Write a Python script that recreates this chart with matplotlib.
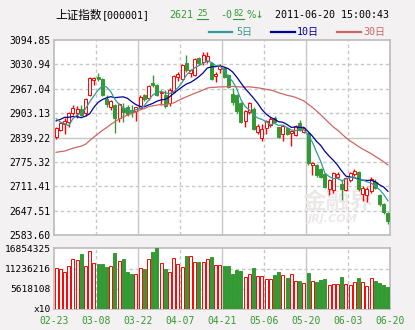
import matplotlib
matplotlib.use("Agg")
import matplotlib.pyplot as plt
from matplotlib.lines import Line2D
import numpy as np
import pandas as pd

# closes before the window, only used to warm up the moving averages
pre_close = [2824.20, 2838.80, 2791.18, 2804.05, 2821.30, 2827.72, 2791.34, 2706.66,
             2708.44, 2750.23, 2677.65, 2715.29, 2676.66, 2677.43, 2708.81, 2749.14,
             2752.75, 2790.69, 2798.96, 2774.06, 2837.62, 2828.36, 2899.25, 2899.24,
             2917.56, 2923.26, 2899.98, 2932.25, 2825.33]

opens = [2842, 2859, 2876, 2880, 2903, 2905, 2913, 2904, 2951, 2990,
         2997, 2993, 2940, 2920, 2924, 2891, 2917, 2920, 2911, 2909,
         2918, 2949, 2942, 2983, 2977, 2955, 2951, 2929, 2959, 2999,
         2994, 3034, 3010, 3003, 3047, 3038, 3040, 3034, 3001, 3019,
         3022, 3003, 2952, 2951, 2929, 2883, 2907, 2914, 2853, 2839,
         2865, 2872, 2890, 2866, 2850, 2865, 2852, 2847, 2878, 2855,
         2850, 2767, 2766, 2757, 2742, 2704, 2703, 2737, 2718, 2703,
         2729, 2743, 2748, 2692, 2690, 2699, 2722, 2688, 2664, 2640]
highs = [2866, 2880, 2890, 2906, 2924, 2922, 2925, 2944, 2998, 2999,
         3009, 2995, 2950, 2938, 2926, 2929, 2929, 2925, 2924, 2920,
         2950, 2952, 2977, 3004, 2980, 2964, 2964, 2968, 3002, 3010,
         3032, 3056, 3020, 3048, 3050, 3063, 3063, 3036, 3012, 3031,
         3025, 3006, 2968, 2954, 2932, 2912, 2933, 2918, 2874, 2874,
         2884, 2892, 2896, 2868, 2872, 2868, 2860, 2873, 2884, 2867,
         2853, 2775, 2770, 2760, 2745, 2730, 2748, 2748, 2728, 2735,
         2750, 2756, 2752, 2712, 2710, 2735, 2731, 2691, 2668, 2644]
lows = [2836, 2855, 2849, 2866, 2897, 2890, 2895, 2895, 2948, 2977,
        2988, 2948, 2920, 2912, 2850, 2880, 2880, 2895, 2894, 2883,
        2914, 2935, 2938, 2972, 2948, 2925, 2916, 2921, 2955, 2987,
        2990, 3012, 2999, 3000, 3030, 3030, 3034, 2990, 2986, 3008,
        2996, 2968, 2925, 2903, 2878, 2868, 2900, 2858, 2848, 2830,
        2848, 2868, 2876, 2838, 2830, 2845, 2818, 2843, 2856, 2850,
        2768, 2742, 2736, 2733, 2707, 2689, 2695, 2730, 2676, 2698,
        2722, 2738, 2700, 2672, 2671, 2695, 2703, 2660, 2638, 2612]
closes = [2864, 2877, 2882, 2903, 2917, 2914, 2898, 2940, 2995, 2994,
          2992, 2951, 2927, 2935, 2891, 2926, 2907, 2901, 2907, 2918,
          2946, 2940, 2973, 2976, 2951, 2959, 2922, 2964, 2999, 3005,
          3028, 3016, 3016, 3045, 3034, 3056, 3052, 2993, 3005, 3025,
          2999, 2972, 2932, 2909, 2881, 2909, 2929, 2863, 2870, 2862,
          2881, 2888, 2880, 2842, 2868, 2848, 2857, 2870, 2860, 2864,
          2772, 2771, 2740, 2736, 2710, 2727, 2745, 2744, 2704, 2732,
          2746, 2752, 2705, 2707, 2705, 2731, 2707, 2664, 2643, 2621.25]

# volume in units of 10 shares
volume = [11290000, 11020000, 10180000, 11850000, 13800000, 13520000, 15290000, 11850000, 16030000, 12690000,
          12510000, 12510000, 11660000, 11850000, 15560000, 13250000, 13890000, 10280000, 9720000, 9720000,
          11290000, 11110000, 13800000, 15840000, 16854325, 12690000, 11110000, 10280000, 14070000, 12510000,
          11660000, 14730000, 14730000, 13060000, 13060000, 13060000, 13800000, 14550000, 12220000, 12220000,
          11950000, 11950000, 9810000, 10840000, 10650000, 8880000, 9720000, 11390000, 9170000, 9170000,
          8240000, 8240000, 9440000, 10280000, 9440000, 8610000, 9720000, 7790000, 7790000, 7230000,
          9990000, 7790000, 7500000, 8060000, 8340000, 6670000, 6940000, 6940000, 8880000, 6940000,
          6670000, 7500000, 8610000, 7500000, 6390000, 8610000, 7790000, 7230000, 6670000, 6120000]

date_labels = ["02-23", "03-08", "03-22", "04-07", "04-21", "05-06", "05-20", "06-03", "06-20"]
price_ticks = [3094.85, 3030.94, 2967.04, 2903.13, 2839.22, 2775.32, 2711.41, 2647.51, 2583.60]
vol_ticks = [16854325, 11236216, 5618108, 0]
vol_labels = ["16854325", "11236216", "5618108", "x10"]

RED = "#ff0000"
GREEN = "#339933"
C5, C10, C30 = "#339999", "#000099", "#cc6666"
GRID = "#c8c8c8"
BG = "#f3f1f1"
MONO = "DejaVu Sans Mono"

n = len(closes)
x = np.arange(n) + 0.5
o = np.array(opens, float)
c = np.array(closes, float)
up = c >= o

allc = pd.Series(pre_close + closes)
ma5 = allc.rolling(5).mean().values[-n:]
ma10 = allc.rolling(10).mean().values[-n:]
ma30 = allc.rolling(30).mean().values[-n:]

fig = plt.figure(figsize=(4.15, 3.30), dpi=100, facecolor=BG)
W, H = 415.0, 330.0
ax = fig.add_axes([54 / W, 1 - 235 / H, 336 / W, 195 / H])
axv = fig.add_axes([54 / W, 1 - 309 / H, 336 / W, 60.7 / H])


def frame(a, ysize=7.0):
    a.set_facecolor("white")
    for s in a.spines.values():
        s.set_color("#c0c0c0")
        s.set_linewidth(1.3)
    a.set_xlim(0, n)
    a.tick_params(axis="y", length=0, labelsize=ysize, pad=2.5)
    a.tick_params(axis="x", length=0, labelsize=7.0, pad=5)
    # vertical grid: solid every other line
    for k in range(1, 8):
        a.axvline(k * 10, color=GRID, lw=1, ls="-" if k % 2 == 0 else (0, (2.5, 2)), zorder=0)


# price panel
ax.set_ylim(price_ticks[-1], price_ticks[0])
ax.set_yticks(price_ticks)
ax.set_yticklabels(["%.2f" % v for v in price_ticks], family=MONO)
ax.set_xticks([])
frame(ax)
for k, v in enumerate(price_ticks[1:-1], start=1):
    ax.axhline(v, color=GRID, lw=1, ls="-" if k == 4 else (0, (2.5, 2)), zorder=0)

# watermark
ax.text(338, H - 202, "金融界", transform=None, fontsize=17, fontweight="bold",
        family="Noto Sans CJK SC", color="#ece8e8", ha="center", va="center", zorder=0)
ax.text(333, H - 219, "JRJ.COM", transform=None, fontsize=8, fontweight="bold", style="italic",
        family="DejaVu Sans", color="#ece8e8", ha="center", va="center", zorder=0)

ax.vlines(x, lows, highs, colors=np.where(up, RED, GREEN), lw=1, zorder=2)
ax.bar(x, np.abs(c - o) + 0.8, bottom=np.minimum(o, c) - 0.4, width=0.74,
       color=np.where(up, "white", GREEN), edgecolor=np.where(up, RED, GREEN), lw=0.7, zorder=3)
ax.plot(x, ma30, color=C30, lw=0.9, zorder=4)
ax.plot(x, ma10, color=C10, lw=0.9, zorder=4)
ax.plot(x, ma5, color=C5, lw=0.9, zorder=4)

# volume panel
axv.set_ylim(0, vol_ticks[0])
axv.set_yticks(vol_ticks)
axv.set_yticklabels(vol_labels, family=MONO)
axv.set_xticks(np.arange(0, n + 1, 10))
axv.set_xticklabels(date_labels, color=GREEN, family=MONO)
frame(axv, ysize=6.8)
for v in vol_ticks[1:3]:
    axv.axhline(v, color=GRID, lw=1, ls=(0, (2.5, 2)), zorder=0)
axv.bar(x, volume, width=0.74, color=np.where(up, "white", GREEN),
        edgecolor=np.where(up, RED, GREEN), lw=0.7, zorder=3)

# header
def ftext(px, py, s, **kw):
    kw.setdefault("family", MONO)
    kw.setdefault("fontsize", 7.2)
    return fig.text(px / W, 1 - py / H, s, va="center", ha="left", **kw)


ftext(55, 15, "上证指数", family="Noto Sans CJK SC", fontsize=8.4)
ftext(102, 15, "[000001]")
ftext(169, 15, "2621", color=GREEN)
ftext(197, 14, "25", color=GREEN, fontsize=6.2)
ftext(220, 15, "-0", color=GREEN)
ftext(233, 14, "82", color=GREEN, fontsize=6.2)
ftext(246, 15, "%↓", color=GREEN, family="DejaVu Sans")
for x0, x1 in [(197, 208), (233, 244)]:
    fig.add_artist(Line2D([x0 / W, x1 / W], [1 - 19 / H, 1 - 19 / H], color=GREEN, lw=0.8))
ftext(275, 15, "2011-06-20 15:00:43")

# legend row
for (x0, x1), tx, lab, col in [((209, 232), 236, "5日", C5),
                               ((271, 295), 297, "10日", C10),
                               ((337, 361), 363, "30日", C30)]:
    fig.add_artist(Line2D([x0 / W, x1 / W], [1 - 32 / H] * 2, color=col, lw=1.6))
    ftext(tx, 32, lab, color=col, family=["DejaVu Sans Mono", "Noto Sans CJK SC"])

fig.savefig("out.png", dpi=100, facecolor=BG)
